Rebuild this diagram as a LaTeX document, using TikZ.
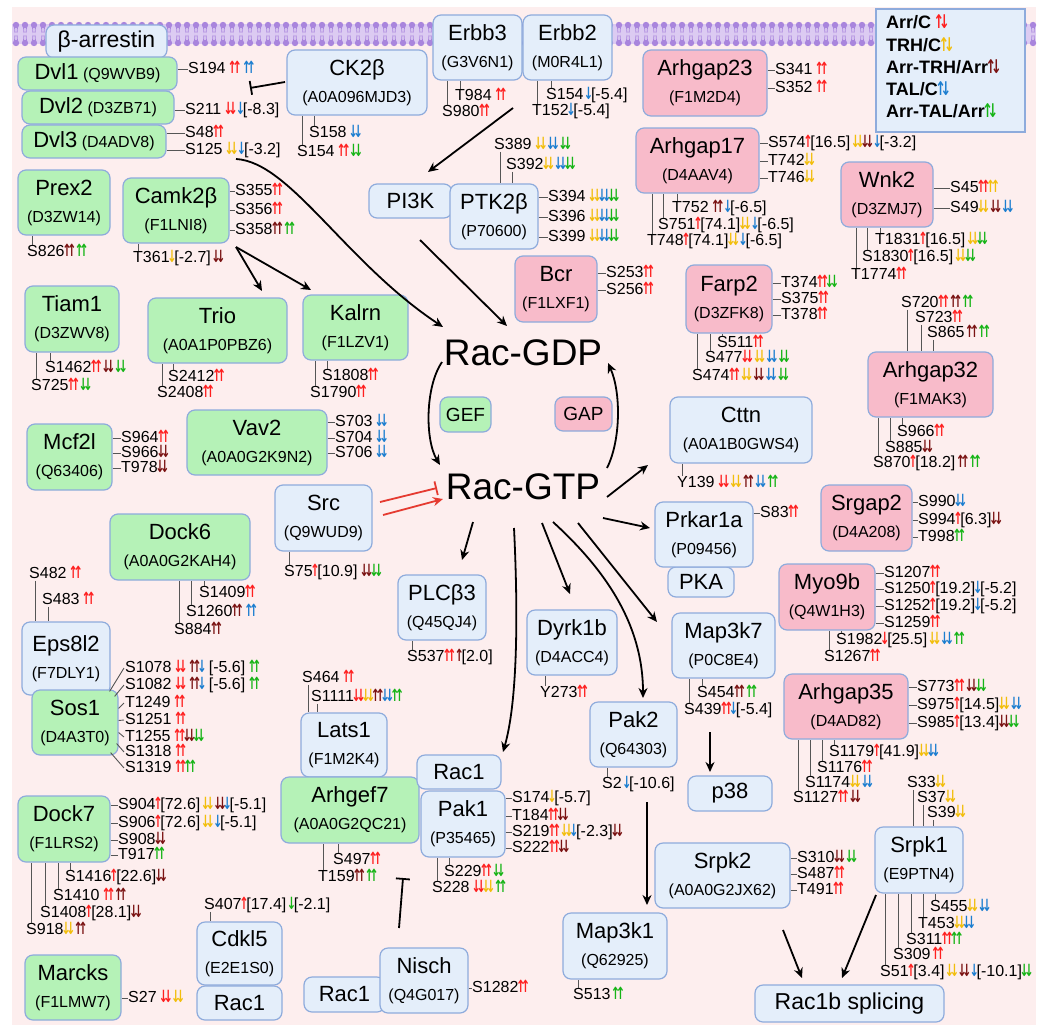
\documentclass[tikz,border=0pt]{standalone}
\usepackage{fontspec}
\usepackage{graphicx}
\setmainfont{Liberation Sans}
\newfontfamily\arrf{DejaVu Sans}
\usetikzlibrary{arrows.meta}
\definecolor{bgpink}{HTML}{FDEEEE}
\definecolor{gfill}{HTML}{B5F2B7}
\definecolor{bfill}{HTML}{E4EEFA}
\definecolor{pfill}{HTML}{F8BBCA}
\definecolor{bord}{HTML}{8EABDC}
\definecolor{cR}{HTML}{FF1F1F}
\definecolor{cY}{HTML}{F2BE0C}
\definecolor{cM}{HTML}{7A1212}
\definecolor{cB}{HTML}{1C7ED0}
\definecolor{cG}{HTML}{16B416}
\definecolor{memb}{HTML}{DCCBF2}
\definecolor{mhead}{HTML}{A985DD}
\definecolor{srcred}{HTML}{E53A30}
\definecolor{tickc}{HTML}{555555}
\newcommand\arU{\makebox[.3em]{\scalebox{.7}[1.05]{\arrf\bfseries ↑}}}
\newcommand\arD{\makebox[.3em]{\scalebox{.7}[1.05]{\arrf\bfseries ↓}}}
\newcommand\Uu[1]{\textcolor{c#1}{\arU\arU}}
\newcommand\Dd[1]{\textcolor{c#1}{\arD\arD}}
\newcommand\Uo[1]{\textcolor{c#1}{\arU}}
\newcommand\Do[1]{\textcolor{c#1}{\arD}}
\newcommand\UD[1]{\textcolor{c#1}{\arU\arD}}
\newcommand\nm[1]{{\fontsize{22}{26}\selectfont #1}}
\newcommand\bx[7]{\pgfmathsetmacro\bxw{#5-#3}\pgfmathsetmacro\bxh{#6-#4}\pgfmathsetmacro\bxx{(#3+#5)/2}\pgfmathsetmacro\bxy{(#4+#6)/2}\node[#1,minimum width=\bxw pt,minimum height=\bxh pt] (#2) at (\bxx,\bxy) {#7};}
\newcommand\RL[5]{\node[lab] (#2) at (#3,#4) {#5};\draw[tick] (#1.east |- #2.west) -- (#2.west);}
\newcommand\BL[5]{\node[lab] (#2) at (#3,#4) {#5};\coordinate (#2t) at ([xshift=5pt]#2.north west);\draw[tick] (#2t) -- (#2t |- #1.south);}
\newcommand\AL[5]{\node[lab] (#2) at (#3,#4) {#5};\coordinate (#2t) at ([xshift=6pt]#2.south west);\draw[tick] (#2t) -- (#2t |- #1.north);}
\begin{document}
\begin{tikzpicture}[x=1pt,y=-1pt,
  box/.style={draw=bord, line width=1.2pt, rounded corners=8pt, inner sep=0pt, align=center, font=\fontsize{16}{27}\selectfont},
  gbox/.style={box, fill=gfill}, bbox/.style={box, fill=bfill}, pbox/.style={box, fill=pfill},
  lab/.style={inner sep=0pt, anchor=west, font=\fontsize{16}{19}\selectfont, text height=11.5pt, text depth=2pt},
  legt/.style={inner sep=0pt, anchor=west, font=\bfseries\fontsize{18}{20}\selectfont},
  tick/.style={draw=tickc, line width=0.9pt},
  arr/.style={line width=1.8pt, -{Stealth[length=10pt,width=9pt]}},
  inh/.style={line width=1.8pt, -{Bar[width=14pt,line width=1.8pt]}},
]
\useasboundingbox (0,0) rectangle (1040,1025);
\fill[white] (0,0) rectangle (1040,1025);
\fill[bgpink] (12,7) rectangle (1036,1025);
% membrane
\fill[memb] (12,24) rectangle (1036,44);
\foreach \x in {16,25,...,1036} {
  \fill[mhead] (\x,25) circle (3.2);
  \fill[mhead] (\x,43) circle (3.2);
  \draw[mhead, line width=0.8pt] (\x-1.5,27)--(\x-1,33) (\x+1.5,27)--(\x+1,33) (\x-1.5,41)--(\x-1,35) (\x+1.5,41)--(\x+1,35);
}
% boxes
\bx{bbox}{barr}{46}{25}{167}{58}{{\fontsize{23}{26}\selectfont β-arrestin}}
\bx{gbox}{dvl1}{18}{57}{177}{90}{\nm{Dvl1} (Q9WVB9)}
\bx{gbox}{dvl2}{22}{91}{174}{124}{\nm{Dvl2} (D3ZB71)}
\bx{gbox}{dvl3}{22}{125}{166}{158}{\nm{Dvl3} (D4ADV8)}
\bx{gbox}{prex2}{18}{170}{110}{235}{\nm{Prex2}\\(D3ZW14)}
\bx{gbox}{camk}{123}{178}{229}{243}{\nm{Camk2β}\\(F1LNI8)}
\bx{gbox}{tiam}{25}{286}{119}{352}{\nm{Tiam1}\\(D3ZWV8)}
\bx{gbox}{trio}{148}{298}{287}{363}{\nm{Trio}\\(A0A1P0PBZ6)}
\bx{gbox}{kalrn}{303}{295}{408}{360}{\nm{Kalrn}\\(F1LZV1)}
\bx{gbox}{mcf}{27}{424}{112}{490}{\nm{Mcf2l}\\(Q63406)}
\bx{gbox}{vav}{187}{410}{327}{475}{\nm{Vav2}\\(A0A0G2K9N2)}
\bx{gbox}{dock6}{110}{514}{250}{580}{\nm{Dock6}\\(A0A0G2KAH4)}
\bx{bbox}{eps}{22}{622}{110}{695}{\nm{Eps8l2}\\(F7DLY1)}
\bx{gbox}{sos1}{32}{690}{118}{755}{\nm{Sos1}\\(D4A3T0)}
\bx{gbox}{dock7}{18}{796}{110}{862}{\nm{Dock7}\\(F1LRS2)}
\bx{gbox}{marcks}{25}{955}{121}{1020}{\nm{Marcks}\\(F1LMW7)}
\bx{bbox}{cdkl5}{197}{922}{282}{985}{\nm{Cdkl5}\\(E2E1S0)}
\bx{bbox}{racA}{197}{986}{282}{1020}{\nm{Rac1}}
\bx{bbox}{ck2b}{287}{50}{427}{115}{\nm{CK2β}\\(A0A096MJD3)}
\bx{bbox}{erbb3}{433}{15}{522}{80}{\nm{Erbb3}\\(G3V6N1)}
\bx{bbox}{erbb2}{523}{15}{612}{80}{\nm{Erbb2}\\(M0R4L1)}
\bx{bbox}{pi3k}{369}{184}{452}{218}{\nm{PI3K}}
\bx{bbox}{ptk}{450}{184}{538}{249}{\nm{PTK2β}\\(P70600)}
\bx{pbox}{bcr}{515}{256}{597}{322}{\nm{Bcr}\\(F1LXF1)}
\bx{pbox}{ag23}{643}{50}{767}{116}{\nm{Arhgap23}\\(F1M2D4)}
\bx{pbox}{ag17}{636}{128}{759}{193}{\nm{Arhgap17}\\(D4AAV4)}
\bx{pbox}{wnk2}{841}{162}{933}{227}{\nm{Wnk2}\\(D3ZMJ7)}
\bx{pbox}{farp2}{686}{265}{772}{333}{\nm{Farp2}\\(D3ZFK8)}
\bx{pbox}{ag32}{868}{352}{993}{417}{\nm{Arhgap32}\\(F1MAK3)}
\bx{gbox}{gef}{440}{397}{491}{432}{{\fontsize{19}{22}\selectfont GEF}}
\bx{pbox}{gap}{555}{397}{612}{431}{{\fontsize{19}{22}\selectfont GAP}}
\bx{bbox}{cttn}{670}{397}{812}{463}{\nm{Cttn}\\(A0A1B0GWS4)}
\bx{bbox}{src}{275}{485}{372}{551}{\nm{Src}\\(Q9WUD9)}
\bx{pbox}{srgap2}{821}{485}{912}{551}{\nm{Srgap2}\\(D4A208)}
\bx{bbox}{pka}{668}{567}{734}{597}{\nm{PKA}}
\bx{bbox}{prkar}{655}{502}{753}{567}{\nm{Prkar1a}\\(P09456)}
\bx{bbox}{plc}{398}{575}{486}{640}{\nm{PLCβ3}\\(Q45QJ4)}
\bx{pbox}{myo9b}{779}{564}{875}{630}{\nm{Myo9b}\\(Q4W1H3)}
\bx{bbox}{dyrk}{527}{610}{617}{675}{\nm{Dyrk1b}\\(D4ACC4)}
\bx{bbox}{map3k7}{672}{613}{775}{678}{\nm{Map3k7}\\(P0C8E4)}
\bx{pbox}{ag35}{784}{674}{908}{739}{\nm{Arhgap35}\\(D4AD82)}
\bx{bbox}{pak2}{590}{702}{677}{767}{\nm{Pak2}\\(Q64303)}
\bx{bbox}{lats1}{301}{713}{387}{777}{\nm{Lats1}\\(F1M2K4)}
\bx{gbox}{agef7}{281}{777}{419}{843}{\nm{Arhgef7}\\(A0A0G2QC21)}
\bx{bbox}{racB}{417}{755}{501}{789}{\nm{Rac1}}
\bx{bbox}{pak1}{421}{791}{505}{857}{\nm{Pak1}\\(P35465)}
\bx{bbox}{p38}{688}{776}{772}{811}{\nm{p38}}
\bx{bbox}{srpk1}{875}{827}{963}{893}{\nm{Srpk1}\\(E9PTN4)}
\bx{bbox}{srpk2}{655}{843}{790}{908}{\nm{Srpk2}\\(A0A0G2JX62)}
\bx{bbox}{map3k1}{563}{913}{667}{979}{\nm{Map3k1}\\(Q62925)}
\bx{bbox}{racC}{304}{977}{385}{1012}{\nm{Rac1}}
\bx{bbox}{nisch}{380}{948}{468}{1013}{\nm{Nisch}\\(Q4G017)}
\bx{bbox}{splice}{755}{985}{944}{1022}{{\fontsize{23}{26}\selectfont Rac1b splicing}}
% legend
\node[draw=bord, fill=bfill, line width=1.2pt, minimum width=149pt, minimum height=123pt, inner sep=0pt] (legbox) at (950.5,70.5) {};
\node[legt] (lg1) at (886,22) {Arr/C \UD{R}};
\node[legt] (lg2) at (886,45) {TRH/C\UD{Y}};
\node[legt] (lg3) at (886,67) {Arr-TRH/Arr\UD{M}};
\node[legt] (lg4) at (886,89) {TAL/C\UD{B}};
\node[legt] (lg5) at (886,111) {Arr-TAL/Arr\UD{G}};
% Rac
\node[font=\fontsize{37}{40}\selectfont, inner sep=0pt] (gdp) at (523,353) {Rac-GDP};
\node[font=\fontsize{37}{40}\selectfont, inner sep=0pt] (gtp) at (523,487) {Rac-GTP};
% labels
\RL{dvl1}{l194}{188}{69}{S194 \Uu{R} \Uu{B}}
\RL{dvl2}{l211}{185}{110}{S211 \Dd{R}\,\Do{B}[-8.3]}
\RL{dvl3}{l48}{185}{133}{S48\Uu{R}}
\RL{dvl3}{l125}{185}{150}{S125 \Dd{Y}\,\Do{B}[-3.2]}
\BL{ck2b}{l158}{309}{133}{S158 \Dd{B}}
\BL{ck2b}{l154}{297}{152}{S154 \Uu{R}\,\Dd{G}}
\BL{erbb3}{l984}{455}{96}{T984 \Uu{R}}
\BL{erbb3}{l980}{442}{112}{S980\Uu{R}}
\BL{erbb2}{l154b}{546}{95}{S154\,\Do{B}[-5.4]}
\BL{erbb2}{l152}{532}{111}{T152\Do{B}[-5.4]}
\RL{ag23}{l341}{775}{70}{S341 \Uu{R}}
\RL{ag23}{l352}{775}{88}{S352 \Uu{R}}
\RL{ag17}{l574}{768}{143}{S574\Uo{R}[16.5]\,\Dd{Y}\Dd{M}\,\Do{B}[-3.2]}
\RL{ag17}{l742}{768}{161}{T742\Dd{Y}}
\RL{ag17}{l746}{768}{178}{T746\Dd{Y}}
\BL{ag17}{l752}{672}{208}{T752 \Uu{M}\,\Do{B}[-6.5]}
\BL{ag17}{l751}{658}{225}{S751\Uo{R}[74.1]\Dd{Y}\,\Do{B}[-6.5]}
\BL{ag17}{l748}{647}{241}{T748\Uo{R}[74.1]\Dd{Y}\,\Do{B}[-6.5]}
\AL{ptk}{l389}{494}{145}{S389 \Dd{Y}\,\Dd{B}\,\Dd{G}}
\AL{ptk}{l392}{506}{165}{S392\Dd{Y}\,\Dd{B}\Dd{G}}
\RL{ptk}{l394}{548}{197}{S394 \Dd{Y}\Dd{B}\Dd{G}}
\RL{ptk}{l396}{548}{217}{S396 \Dd{Y}\Dd{B}\Dd{G}}
\RL{ptk}{l399}{548}{237}{S399 \Dd{Y}\Dd{B}\Dd{G}}
\RL{bcr}{l253}{606}{273}{S253\Uu{R}}
\RL{bcr}{l256}{606}{290}{S256\Uu{R}}
\RL{wnk2}{l45}{950}{188}{S45\Uu{R}\Uu{Y}}
\RL{wnk2}{l49}{950}{208}{S49\Dd{Y}\,\Dd{M}\,\Dd{B}}
\BL{wnk2}{l1831}{875}{240}{T1831\Uo{R}[16.5]\,\Dd{Y}\Dd{G}}
\BL{wnk2}{l1830}{862}{257}{S1830\Uo{R}[16.5]\,\Dd{Y}\Dd{G}}
\BL{wnk2}{l1774}{851}{275}{T1774\Uu{R}}
\RL{farp2}{l374}{781}{283}{T374\Uu{R}\Dd{G}}
\RL{farp2}{l375}{781}{299}{S375\Uu{R}}
\RL{farp2}{l378}{781}{315}{T378\Uu{R}}
\BL{farp2}{l511}{717}{343}{S511\Uu{R}}
\BL{farp2}{l477}{705}{358}{S477\Dd{R}\,\Dd{Y}\,\Dd{B}\,\Dd{G}}
\BL{farp2}{l474}{692}{376}{S474\Uu{R}\,\Dd{Y}\,\Dd{M}\,\Dd{B}\,\Dd{G}}
\AL{ag32}{l720}{901}{303}{S720\Uu{R}\,\Uu{M}\,\Uu{G}}
\AL{ag32}{l723}{915}{318}{S723\Uu{R}}
\AL{ag32}{l865}{927}{333}{S865\,\Uu{M}\,\Uu{G}}
\BL{ag32}{la966}{897}{432}{S966\Uu{R}}
\BL{ag32}{l885}{885}{448}{S885\Dd{M}}
\BL{ag32}{l870}{873}{463}{S870\Uo{R}[18.2]\,\Uu{M}\,\Uu{G}}
\RL{camk}{l355}{235}{191}{S355\Uu{R}}
\RL{camk}{l356}{235}{210}{S356\Uu{R}}
\RL{camk}{l358}{235}{230}{S358\Uu{M}\,\Uu{G}}
\BL{camk}{l361}{133}{258}{T361\Do{Y}[-2.7]\,\Dd{M}}
\BL{prex2}{l826}{27}{252}{S826\Uu{M}\,\Uu{G}}
\BL{tiam}{l1462}{45}{368}{S1462\Uu{R}\,\Dd{M}\,\Dd{G}}
\BL{tiam}{l725}{31}{386}{S725\Uu{R}\,\Dd{G}}
\BL{trio}{l2412}{168}{377}{S2412\Uu{R}}
\BL{trio}{l2408}{157}{393}{S2408\Uu{R}}
\BL{kalrn}{l1808}{322}{376}{S1808\Uu{R}}
\BL{kalrn}{l1790}{310}{393}{S1790\Uu{R}}
\RL{mcf}{l964}{121}{438}{S964\Uu{R}}
\RL{mcf}{lm966}{121}{453}{S966\Dd{M}}
\RL{mcf}{l978}{121}{468}{T978\Dd{M}}
\RL{vav}{l703}{335}{422}{S703 \Dd{B}}
\RL{vav}{l704}{335}{438}{S704 \Dd{B}}
\RL{vav}{l706}{335}{453}{S706 \Dd{B}}
\BL{src}{l75}{284}{572}{S75\Uo{R}[10.9] \Dd{M}\Dd{G}}
\BL{dock6}{l1409}{199}{593}{S1409\Uu{R}}
\BL{dock6}{l1260}{186}{612}{S1260\Uu{M} \Uu{B}}
\BL{dock6}{l884}{174}{630}{S884\Uu{M}}
\AL{eps}{l482}{29}{574}{S482 \Uu{R}}
\AL{eps}{l483}{42}{600}{S483 \Uu{R}}
\node[lab] (l1078) at (125,668) {S1078 \Dd{R} \Uu{M}\Do{B} [-5.6] \Uu{G}};
\node[lab] (l1082) at (125,685) {S1082 \Dd{R} \Uu{M}\Do{B} [-5.6] \Uu{G}};
\node[lab] (l1249) at (125,703) {T1249 \Uu{R}};
\node[lab] (l1251) at (125,720) {S1251 \Uu{R}};
\node[lab] (l1255) at (125,737) {T1255 \Uu{R}\Dd{M}\Dd{G}};
\node[lab] (l1318) at (125,752) {S1318 \Uu{R}};
\node[lab] (l1319) at (125,768) {S1319 \Uu{R}\Uu{G}};
\draw[tick] ([shift={(-9,2)}]sos1.north east) -- ([xshift=-1pt]l1078.west);
\draw[tick] ([shift={(-4,7)}]sos1.north east) -- ([xshift=-1pt]l1082.west);
\draw[tick] ([shift={(0,-14)}]sos1.east) -- ([xshift=-1pt]l1249.west);
\draw[tick] ([shift={(0,-2)}]sos1.east) -- ([xshift=-1pt]l1251.west);
\draw[tick] ([shift={(0,10)}]sos1.east) -- ([xshift=-1pt]l1255.west);
\draw[tick] ([shift={(-2,21)}]sos1.east) -- ([xshift=-1pt]l1318.west);
\draw[tick] ([shift={(-8,-3)}]sos1.south east) -- ([xshift=-1pt]l1319.west);
\RL{dock7}{l904}{118}{805}{S904\Uo{R}[72.6]\,\Dd{Y}\,\Dd{M}\Do{B}[-5.1]}
\RL{dock7}{l906}{118}{823}{S906\Uo{R}[72.6]\,\Dd{Y}\,\Do{B}[-5.1]}
\RL{dock7}{l908}{118}{840}{S908\Dd{M}}
\RL{dock7}{l917}{118}{855}{T917\Uu{G}}
\BL{dock7}{l1416}{65}{877}{S1416\Uo{R}[22.6]\Dd{M}}
\BL{dock7}{l1410}{53}{896}{S1410 \Uu{R}\,\Uu{M}}
\BL{dock7}{l1408}{40}{913}{S1408\Uo{R}[28.1]\Dd{M}}
\BL{dock7}{l918}{26}{930}{S918\Dd{Y}\,\Uu{M}}
\RL{marcks}{l27}{128}{998}{S27 \Dd{R}\,\Dd{Y}}
\AL{cdkl5}{l407}{204}{905}{S407\Uo{R}[17.4]\,\Do{G}[-2.1]}
\AL{lats1}{l464}{302}{678}{S464 \Uu{R}}
\AL{lats1}{l1111}{311}{697}{S1111\Dd{R}\Dd{Y}\Uu{M}\Dd{B}\Uu{G}}
\BL{agef7}{l497}{333}{860}{S497\Uu{R}}
\BL{agef7}{l159}{318}{877}{T159\Uu{M}\,\Uu{G}}
\RL{pak1}{l174}{512}{798}{S174\Do{Y}[-5.7]}
\RL{pak1}{l184}{512}{816}{T184\Uu{R}\Dd{M}}
\RL{pak1}{l219}{512}{832}{S219\Uu{R}\,\Dd{Y}\Do{B}[-2.3]\Dd{M}}
\RL{pak1}{l222}{512}{848}{S222\Uu{R}\Dd{M}}
\BL{pak1}{l229}{444}{872}{S229\Uu{R}\,\Dd{G}}
\BL{pak1}{l228}{432}{888}{S228 \Dd{R}\Dd{Y}\,\Uu{G}}
\RL{nisch}{l1282}{472}{988}{S1282\Uu{R}}
\BL{plc}{l537}{407}{657}{S537\Uu{R}\,\Uo{M}[2.0]}
\BL{cttn}{l139}{677}{483}{Y139 \Dd{R}\,\Dd{Y}\,\Uu{M}\,\Dd{B}\,\Uu{G}}
\RL{prkar}{l83}{760}{513}{S83\Uu{R}}
\RL{srgap2}{l990}{918}{502}{S990\Dd{B}}
\RL{srgap2}{l994}{918}{520}{S994\Uo{R}[6.3]\Dd{M}}
\RL{srgap2}{l998}{918}{537}{T998\Uu{G}}
\RL{myo9b}{l1207}{884}{573}{S1207\Uu{R}}
\RL{myo9b}{l1250}{884}{589}{S1250\Uo{R}[19.2]\Do{B}[-5.2]}
\RL{myo9b}{l1252}{884}{606}{S1252\Uo{R}[19.2]\Do{B}[-5.2]}
\RL{myo9b}{l1259}{884}{623}{S1259\Uu{R}}
\BL{myo9b}{l1982}{836}{640}{S1982\Do{R}[25.5]\,\Dd{Y}\,\Dd{B}\,\Uu{G}}
\BL{myo9b}{l1267}{824}{657}{S1267\Uu{R}}
\BL{dyrk}{l273}{540}{693}{Y273\Uu{R}}
\BL{map3k7}{l454}{697}{693}{S454\Uu{M}\,\Uu{G}}
\BL{map3k7}{l439}{684}{710}{S439\Uu{R}\Do{B}[-5.4]}
\BL{pak2}{l2}{602}{784}{S2\,\Do{B}[-10.6]}
\BL{map3k1}{l513}{573}{995}{S513\,\Uu{G}}
\RL{ag35}{l773}{917}{687}{S773\Uu{R}\,\Dd{M}\Dd{G}}
\RL{ag35}{l975}{917}{705}{S975\Uo{R}[14.5]\Dd{Y}\,\Dd{B}}
\RL{ag35}{l985}{917}{723}{S985\Uo{R}[13.4]\Dd{M}\Dd{G}}
\BL{ag35}{l1179}{829}{752}{S1179\Uo{R}[41.9]\Dd{Y}\Dd{B}}
\BL{ag35}{l1176}{817}{768}{S1176\Uu{R}}
\BL{ag35}{l1174}{805}{783}{S1174\Dd{Y}\,\Dd{B}}
\BL{ag35}{l1127}{793}{798}{S1127\Uu{R}\,\Dd{M}}
\AL{srpk1}{l33}{907}{783}{S33\Dd{Y}}
\AL{srpk1}{l37}{917}{798}{S37\Dd{Y}}
\AL{srpk1}{l39}{927}{813}{S39\Dd{Y}}
\BL{srpk1}{l455}{930}{907}{S455\Dd{Y}\,\Dd{B}}
\BL{srpk1}{l453}{918}{924}{T453\Dd{Y}\Dd{B}}
\BL{srpk1}{l311}{906}{940}{S311\Uu{R}\Uu{G}}
\BL{srpk1}{l309}{893}{955}{S309\,\Uu{R}}
\BL{srpk1}{l51}{880}{972}{S51\Uo{R}[3.4]\,\Dd{Y}\,\Dd{M}\,\Do{B}[-10.1]\Dd{G}}
\RL{srpk2}{l310}{797}{858}{S310\Dd{M}\,\Dd{G}}
\RL{srpk2}{l487}{797}{874}{S487\Uu{R}}
\RL{srpk2}{l491}{797}{890}{T491\Uu{R}}
% connector end points
\coordinate (cf) at (236,247); \coordinate (trioT) at (262,291); \coordinate (kalT) at (311,290);
\coordinate (ck2bI) at (285,82); \coordinate (dvlI) at (250,88);
\coordinate (e3s) at (513,108); \coordinate (pi3kT) at (428,172);
\coordinate (pi3kS) at (420,240); \coordinate (gdpA) at (507,326);
\coordinate (s125e) at (236,159); \coordinate (gdpB) at (443,327);
\coordinate (gdpL) at (442,362); \coordinate (gtpL) at (440,465);
\coordinate (gtpR) at (607,468); \coordinate (gdpR) at (608,363);
\coordinate (srcI) at (380,502); \coordinate (gtpI) at (437,488);
\coordinate (srcA) at (383,515); \coordinate (gtpA) at (443,499);
\coordinate (g1) at (473,522); \coordinate (plcT) at (462,560);
\coordinate (g2) at (514,528); \coordinate (racBT) at (503,752);
\coordinate (g3) at (542,523); \coordinate (dyrkT) at (570,594);
\coordinate (g4) at (553,522); \coordinate (pak2T) at (643,698);
\coordinate (g5) at (578,523); \coordinate (m7T) at (657,622);
\coordinate (g6) at (607,497); \coordinate (cttnT) at (648,465);
\coordinate (g7) at (603,518); \coordinate (prkT) at (650,528);
\coordinate (m7S) at (710,732); \coordinate (p38T) at (710,772);
\coordinate (pak2S) at (647,802); \coordinate (m1T) at (647,905);
\coordinate (nischI) at (399,928); \coordinate (nischE) at (403,878);
\coordinate (sp2) at (783,930); \coordinate (spl1) at (802,978);
\coordinate (sp1) at (876,895); \coordinate (spl2) at (842,978);
% connectors
\draw[arr] (cf) -- (trioT);
\draw[arr] (cf) -- (kalT);
\draw[inh] (ck2bI) -- (dvlI);
\draw[arr] (e3s) -- (pi3kT);
\draw[arr] (pi3kS) -- (gdpA);
\draw[arr] (s125e) .. controls (290,162) and (345,262) .. (gdpB);
\draw[arr] (gdpL) .. controls (425,387) and (425,440) .. (gtpL);
\draw[arr] (gtpR) .. controls (621,440) and (621,392) .. (gdpR);
\draw[inh, draw=srcred] (srcI) -- (gtpI);
\draw[arr, draw=srcred] (srcA) -- (gtpA);
\draw[arr] (g1) -- (plcT);
\draw[arr] (g2) .. controls (518,610) and (518,700) .. (racBT);
\draw[arr] (g3) -- (dyrkT);
\draw[arr] (g4) .. controls (600,565) and (643,620) .. (pak2T);
\draw[arr] (g5) -- (m7T);
\draw[arr] (g6) -- (cttnT);
\draw[arr] (g7) -- (prkT);
\draw[arr] (m7S) -- (p38T);
\draw[arr] (pak2S) -- (m1T);
\draw[inh] (nischI) -- (nischE);
\draw[arr] (sp2) -- (spl1);
\draw[arr] (sp1) -- (spl2);
\end{tikzpicture}
\end{document}
